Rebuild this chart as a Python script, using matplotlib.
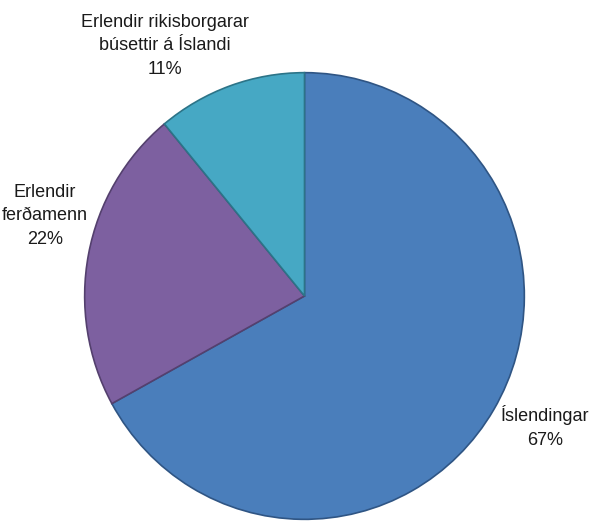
import matplotlib
matplotlib.use("Agg")
import matplotlib.pyplot as plt

categories = ["Íslendingar", "Erlendir\nferðamenn", "Erlendir rikisborgarar\nbúsettir á Íslandi"]
values = [67, 22, 11]
colors = ["#4A7EBB", "#7D60A0", "#46A8C4"]
edge_colors = ["#2F5584", "#54406E", "#2C7488"]

plt.rcParams['font.family'] = ['Liberation Sans', 'DejaVu Sans']

W, H = 604, 523
fig = plt.figure(figsize=(W / 100, H / 100), dpi=100)
# pie bounding box in pixels (left, right, top, bottom from top of image)
x0, x1, yt, yb = 84, 525, 72, 520
ax = fig.add_axes([x0 / W, (H - yb) / H, (x1 - x0) / W, (yb - yt) / H])
wedges, _ = ax.pie(values, colors=colors, startangle=90, counterclock=False,
                   wedgeprops=dict(linewidth=1.2))
for w, ec in zip(wedges, edge_colors):
    w.set_edgecolor(ec)
ax.set_xlim(-1.003, 1.003)
ax.set_ylim(-1.003, 1.003)
ax.set_aspect('auto')
ax.axis('off')

label_pos = [(545, 427), (45, 216), (165, 46)]
for cat, v, (px, py) in zip(categories, values, label_pos):
    fig.text(px / W, 1 - py / H, f"{cat}\n{v}%", ha='center', va='center',
             fontsize=13, color='#1a1a1a', linespacing=1.5)

fig.savefig("out.png", dpi=100)
